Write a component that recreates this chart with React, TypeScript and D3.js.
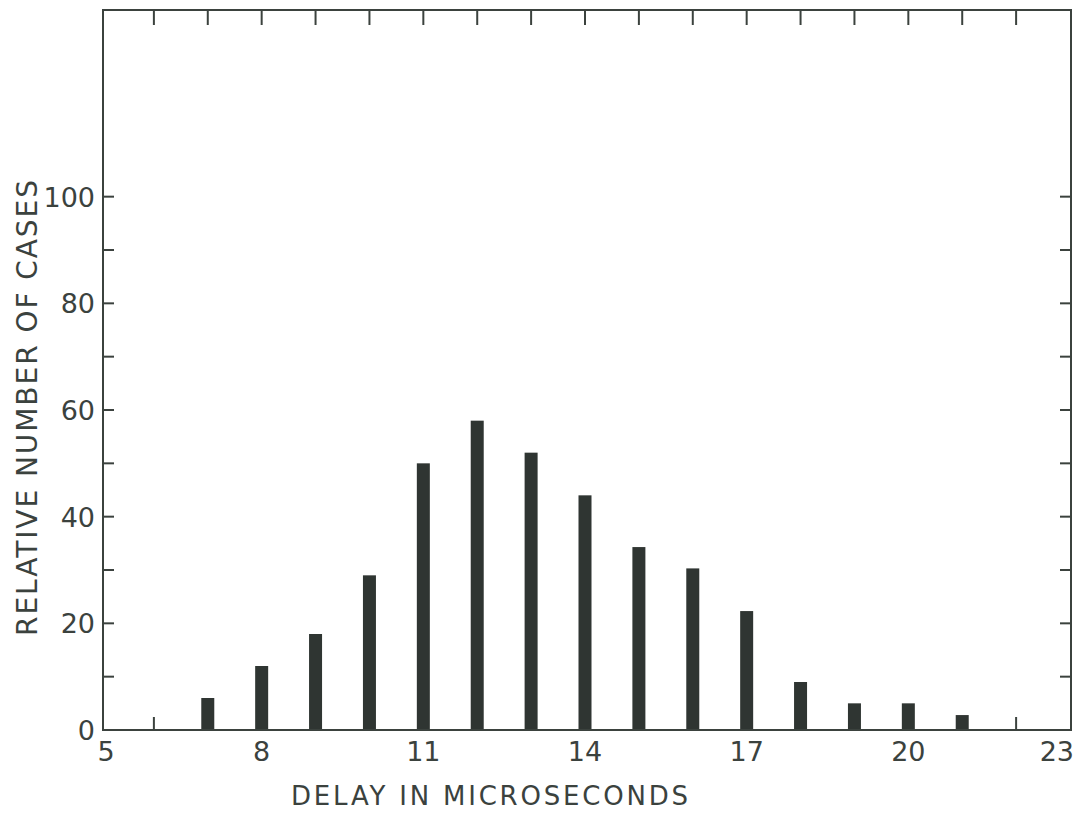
import React, { useRef, useEffect } from "react";
import * as d3 from "d3";

// delay (microseconds) and relative number of cases
const delays = [7, 8, 9, 10, 11, 12, 13, 14, 15, 16, 17, 18, 19, 20, 21];
const cases = [6, 12, 18, 29, 50, 58, 52, 44, 34.3, 30.3, 22.3, 9, 5, 5, 2.8];

const xTickLabels = [5, 8, 11, 14, 17, 20, 23];
const yTickLabels = [0, 20, 40, 60, 80, 100];
const yMinorTicks = [10, 20, 30, 40, 50, 60, 70, 80, 90, 100];
const xMinorTicks = d3.range(6, 23);

const ink = "#3b423e";
const font = "'DejaVu Sans', 'Liberation Sans', sans-serif";

const App = () => {
  const ref = useRef<SVGSVGElement>(null);

  useEffect(() => {
    const width = 1082;
    const height = 815;
    const left = 103;
    const right = 1071;
    const top = 10;
    const bottom = 730;

    const svg = d3.select(ref.current).attr("width", width).attr("height", height);
    svg.selectAll("*").remove();

    const x = d3.scaleLinear().domain([5, 23]).range([100, 1070]);
    const y = d3.scaleLinear().domain([0, 135]).range([bottom, top]);

    svg.append("rect").attr("width", width).attr("height", height).attr("fill", "#fff");

    // ticks on all four sides, pointing inward
    const g = svg.append("g").attr("stroke", ink).attr("stroke-width", 2);
    g.selectAll(".tt")
      .data(xMinorTicks)
      .enter()
      .append("line")
      .attr("x1", (d) => x(d))
      .attr("x2", (d) => x(d))
      .attr("y1", top)
      .attr("y2", top + 15);
    g.selectAll(".bt")
      .data(xMinorTicks)
      .enter()
      .append("line")
      .attr("x1", (d) => x(d))
      .attr("x2", (d) => x(d))
      .attr("y1", bottom)
      .attr("y2", bottom - 13);
    g.selectAll(".lt")
      .data(yMinorTicks)
      .enter()
      .append("line")
      .attr("x1", left)
      .attr("x2", left + 11)
      .attr("y1", (d) => y(d))
      .attr("y2", (d) => y(d));
    g.selectAll(".rt")
      .data(yMinorTicks)
      .enter()
      .append("line")
      .attr("x1", right)
      .attr("x2", right - 11)
      .attr("y1", (d) => y(d))
      .attr("y2", (d) => y(d));

    // bars
    const barW = 13;
    svg
      .selectAll(".bar")
      .data(delays)
      .enter()
      .append("rect")
      .attr("x", (d) => x(d) - barW / 2)
      .attr("y", (d, i) => y(cases[i]))
      .attr("width", barW)
      .attr("height", (d, i) => bottom - y(cases[i]))
      .attr("fill", "#2f3532");

    // frame
    svg
      .append("rect")
      .attr("x", left)
      .attr("y", top)
      .attr("width", right - left)
      .attr("height", bottom - top)
      .attr("fill", "none")
      .attr("stroke", ink)
      .attr("stroke-width", 2);

    // tick labels
    svg
      .selectAll(".xl")
      .data(xTickLabels)
      .enter()
      .append("text")
      .attr("x", (d) => (d === 23 ? x(d) + 4 : x(d) + (d === 5 ? 6 : 0)))
      .attr("y", 761)
      .attr("text-anchor", (d) => (d === 23 ? "end" : "middle"))
      .attr("font-family", font)
      .attr("font-size", 27)
      .attr("fill", ink)
      .text((d) => d);

    svg
      .selectAll(".yl")
      .data(yTickLabels)
      .enter()
      .append("text")
      .attr("x", 95)
      .attr("y", (d) => y(d) + 10)
      .attr("text-anchor", "end")
      .attr("font-family", font)
      .attr("font-size", 27)
      .attr("fill", ink)
      .text((d) => d);

    // axis titles
    svg
      .append("text")
      .attr("x", 291)
      .attr("y", 805)
      .attr("font-family", font)
      .attr("font-size", 26)
      .attr("textLength", 397)
      .attr("lengthAdjust", "spacing")
      .attr("fill", ink)
      .text("DELAY IN MICROSECONDS");

    svg
      .append("text")
      .attr("transform", "translate(37, 636) rotate(-90)")
      .attr("font-family", font)
      .attr("font-size", 28)
      .attr("textLength", 456)
      .attr("lengthAdjust", "spacing")
      .attr("fill", ink)
      .text("RELATIVE NUMBER OF CASES");
  }, []);

  return <svg ref={ref} style={{ position: "absolute", left: 0, top: 0 }}></svg>;
};

export default App;
